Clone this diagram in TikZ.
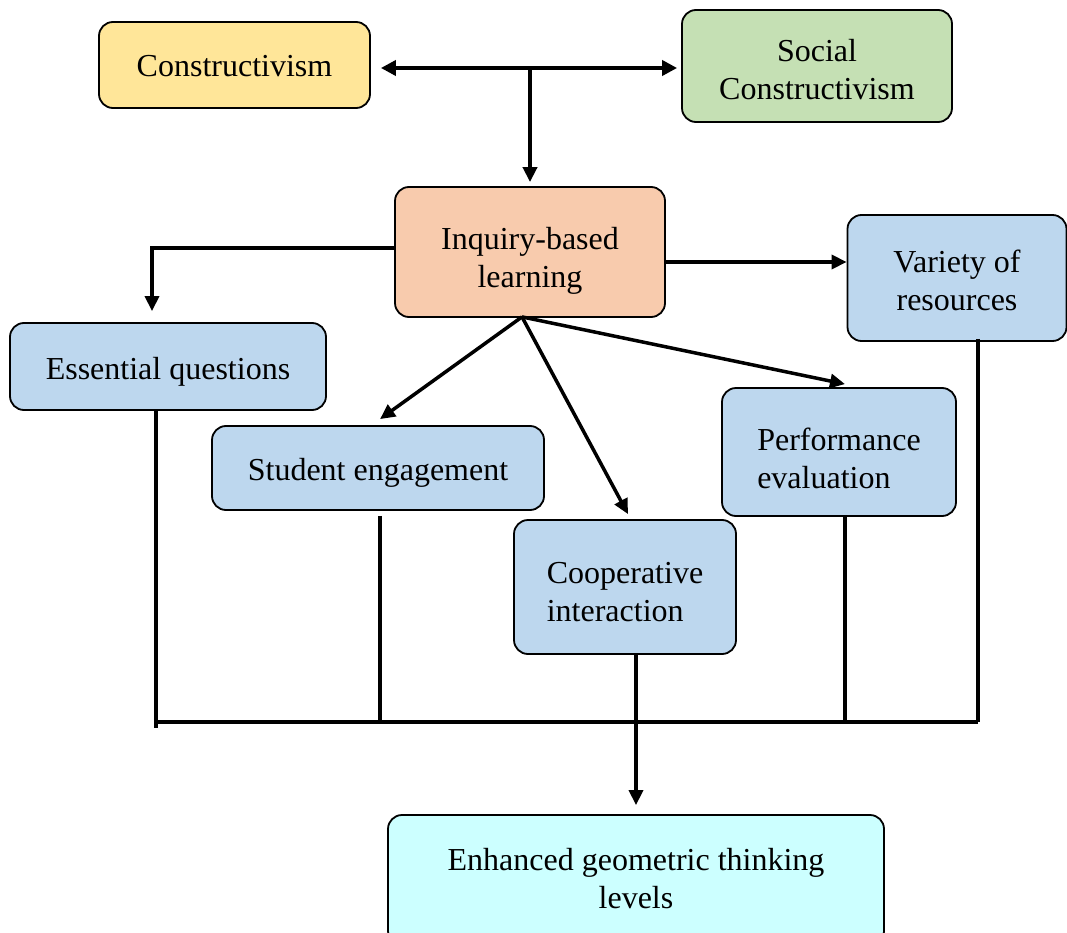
\documentclass[tikz,border=0pt]{standalone}
\usepackage{fontspec}
\setmainfont{Liberation Serif}
\usetikzlibrary{arrows.meta}
\definecolor{cyel}{HTML}{FFE699}
\definecolor{cgrn}{HTML}{C5E0B4}
\definecolor{corg}{HTML}{F8CBAD}
\definecolor{cblu}{HTML}{BDD7EE}
\definecolor{ccyn}{HTML}{CCFFFF}
\newcommand\boxtext[3]{\raisebox{0pt}[\dimexpr\height+#1*2\relax][\depth]{\begin{tabular}{@{}#2@{}}#3\end{tabular}}}
\tikzset{
  box/.style={draw=black, line width=1.8pt, rounded corners=14pt, align=center, inner sep=0pt,
    font=\fontsize{32}{38}\selectfont},
  conn/.style={draw=black, line width=3.5pt},
  arr/.style={conn, -{Triangle[length=15pt,width=14pt]}},
}
\begin{document}
\begin{tikzpicture}[x=1pt,y=-1pt]
\useasboundingbox (0,0) rectangle (1067,933);
\node[box, fill=cyel, minimum width=271pt, minimum height=86pt] (cons) at (234.5,65) {\boxtext{4pt}{c}{Constructivism}};
\node[box, fill=cgrn, minimum width=270pt, minimum height=112pt] (soc) at (817,66) {\boxtext{7pt}{c}{Social\\Constructivism}};
\node[box, fill=corg, minimum width=270pt, minimum height=130pt] (ibl) at (530,252) {\boxtext{9pt}{c}{Inquiry-based\\learning}};
\node[box, fill=cblu, minimum width=219pt, minimum height=126pt] (var) at (957,278) {\boxtext{6pt}{c}{Variety of\\resources}};
\node[box, fill=cblu, minimum width=316pt, minimum height=87pt] (ess) at (168,366.5) {\boxtext{5pt}{c}{Essential questions}};
\node[box, fill=cblu, minimum width=332pt, minimum height=84pt] (stu) at (378,468) {\boxtext{5pt}{c}{Student engagement}};
\node[box, fill=cblu, minimum width=222pt, minimum height=134pt] (coop) at (625,587) {\boxtext{8pt}{l}{Cooperative\\interaction}};
\node[box, fill=cblu, minimum width=234pt, minimum height=128pt] (perf) at (839,452) {\boxtext{10pt}{l}{Performance\\evaluation}};
\node[box, fill=ccyn, minimum width=496pt, minimum height=130pt] (enh) at (636,880) {\boxtext{2pt}{c}{Enhanced geometric thinking\\levels}};

% top connectors
\coordinate (j) at (530,68);
\draw[conn, line width=4pt, {Triangle[length=15pt,width=15pt]}-{Triangle[length=15pt,width=15pt]}] ([xshift=10pt,yshift=-3pt]cons.east) -- ([xshift=-4pt]j -| soc.west);
\draw[arr, line width=4pt] (j) -- ([yshift=4pt]ibl.north);

% from inquiry
\draw[arr] ([yshift=4pt]ibl.west) -| ([xshift=-16pt,yshift=11pt]ess.north);
\draw[arr] ([yshift=-10pt]ibl.east) -- ([yshift=-10pt]ibl.east -| var.west);
\coordinate (ib) at ([xshift=-8pt,yshift=1pt]ibl.south);
\draw[arr] (ib) -- ([xshift=2pt,yshift=6pt]stu.north);
\draw[arr] (ib) -- ([xshift=3pt,yshift=5pt]coop.north);
\draw[arr] (ib) -- ([xshift=6pt,yshift=3pt]perf.north);

% bus
\coordinate (bl) at (156,722);
\coordinate (br) at (978,722);
\draw[conn] ([xshift=-12pt]ess.south) -- ([yshift=-6pt]bl);
\draw[conn] ([xshift=2pt,yshift=-5pt]stu.south) -- ([xshift=2pt]stu.south |- bl);
\draw[conn] ([xshift=6pt,yshift=1pt]perf.south) -- ([xshift=6pt]perf.south |- bl);
\draw[conn] ([xshift=21pt,yshift=3pt]var.south) -- (br);
\draw[conn, line width=4pt] (bl) -- (br);
\draw[arr] ([xshift=11pt]coop.south) -- ([yshift=9pt]enh.north);
\end{tikzpicture}
\end{document}
